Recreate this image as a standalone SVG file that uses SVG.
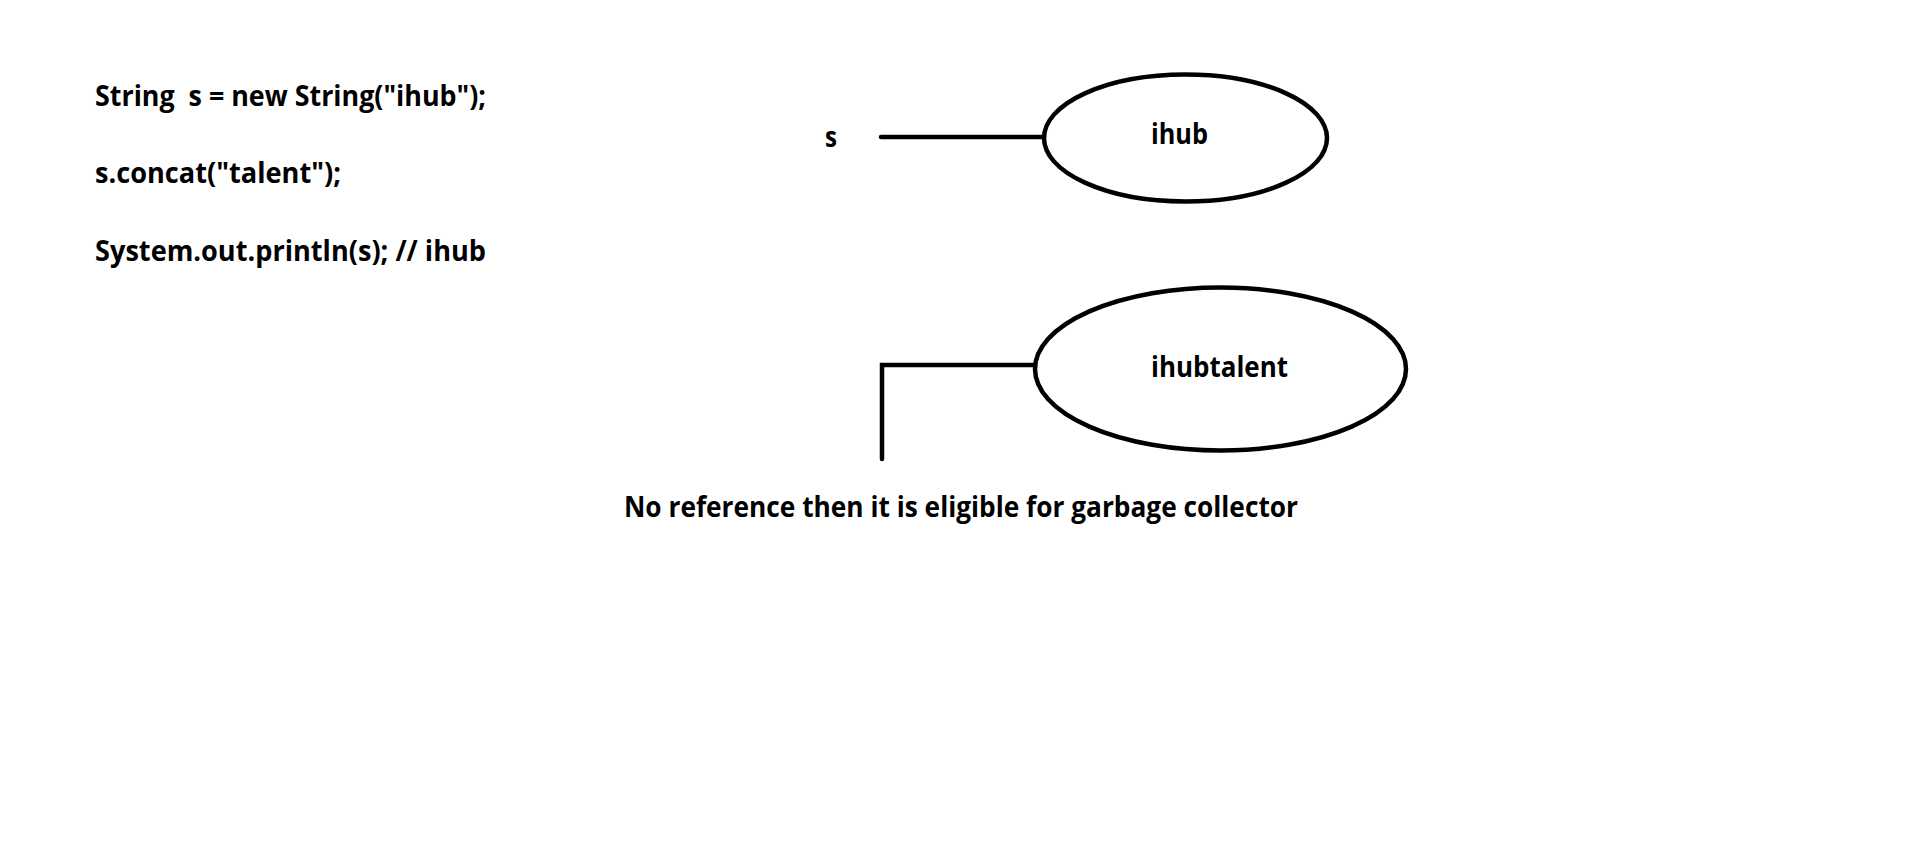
<svg xmlns="http://www.w3.org/2000/svg" width="1914" height="867" viewBox="0 0 1914 867">
<style>
text{font-family:"Open Sans","Noto Sans","Liberation Sans",sans-serif;font-weight:bold;fill:#000;font-size:28px}
.ln{stroke:#000;stroke-width:4.5;fill:none;stroke-linecap:round}
</style>
<rect width="1914" height="867" fill="#fff"/>
<g id="code">
<text x="95" y="106" textLength="391" lengthAdjust="spacingAndGlyphs" xml:space="preserve">String  s = new String("ihub");</text>
<text x="95" y="183" textLength="246" lengthAdjust="spacingAndGlyphs">s.concat("talent");</text>
<text x="95" y="261" textLength="391" lengthAdjust="spacingAndGlyphs">System.out.println(s); // ihub</text>
</g>
<g id="var-s"><text x="825" y="147" textLength="12" lengthAdjust="spacingAndGlyphs">s</text></g>
<g id="obj-ihub">
<ellipse class="ln" cx="1185.5" cy="138" rx="141.5" ry="63.5"/>
<text x="1151" y="144" textLength="57" lengthAdjust="spacingAndGlyphs">ihub</text>
</g>
<g id="obj-ihubtalent">
<ellipse class="ln" cx="1220.5" cy="369" rx="185.5" ry="81.5"/>
<text x="1151" y="377" textLength="137" lengthAdjust="spacingAndGlyphs">ihubtalent</text>
</g>
<g id="connectors">
<line class="ln" x1="881" y1="137" x2="1044" y2="137"/>
<polyline class="ln" points="882,459 882,365 1035,365"/>
</g>
<g id="note"><text x="624" y="517" textLength="674" lengthAdjust="spacingAndGlyphs">No reference then it is eligible for garbage collector</text></g>
</svg>
